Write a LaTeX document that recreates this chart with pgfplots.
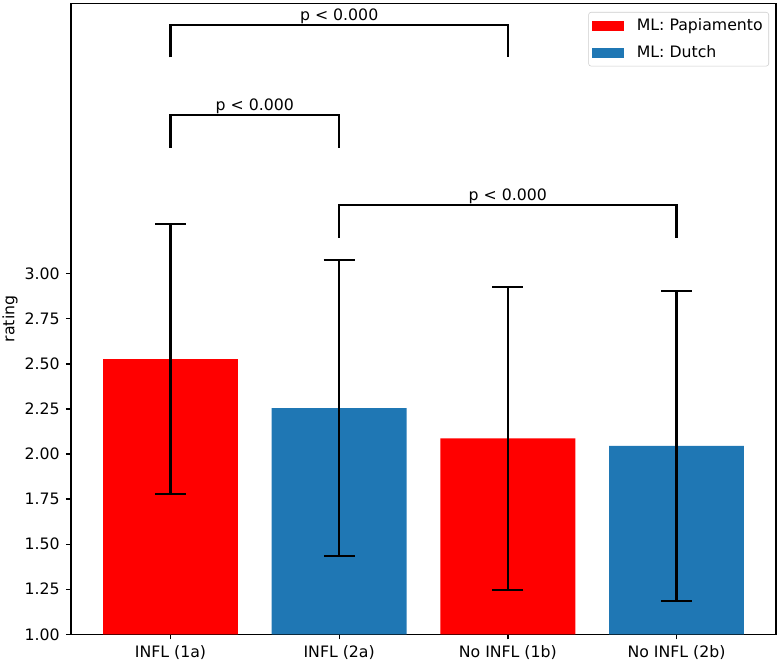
\documentclass[border=0pt]{standalone}
\usepackage{fontspec}
\setmainfont{DejaVu Sans}
\usepackage{pgfplots}
\pgfplotsset{compat=1.18}
\definecolor{mplred}{HTML}{FF0000}
\definecolor{mplblue}{HTML}{1F77B4}
\newcommand{\fs}{\fontsize{11.8bp}{14bp}\selectfont}
\begin{document}
\begin{tikzpicture}
\begin{axis}[
  name=ax,
  scale only axis,
  width=528.75bp, height=473.25bp,
  xmin=-0.59, xmax=3.59,
  ymin=1, ymax=4.5,
  axis line style={line width=1bp},
  tick style={line width=1bp, black},
  tick align=outside,
  major tick length=3.75bp,
  xtick={0,1,2,3},
  xticklabels={INFL (1a), INFL (2a), No INFL (1b), No INFL (2b)},
  ytick={1,1.25,1.5,1.75,2,2.25,2.5,2.75,3},
  xtick pos=bottom, ytick pos=left,
  /pgf/number format/assume math mode=true,
  y tick label style={/pgf/number format/fixed, /pgf/number format/fixed zerofill, /pgf/number format/precision=2},
  ticklabel style={font=\fs},
  xticklabel style={inner sep=0pt, anchor=north, yshift=-4.5bp},
  yticklabel style={inner sep=0pt, anchor=east, xshift=-4.5bp},
  ylabel={rating},
  every axis y label/.style={at={(axis description cs:-0.0865,0.5)}, rotate=90, anchor=center, font=\fs},
  legend style={at={(1,1)}, anchor=north east, xshift=-5.25bp, yshift=-6.5bp,
    draw=black!20, rounded corners=2bp, fill=white, font=\fs,
    inner xsep=2.5bp, inner ysep=3bp, row sep=5.5bp,
    nodes={inner sep=2bp},
    /tikz/every odd column/.append style={column sep=7.75bp}},
  legend cell align=left,
  legend image code/.code={\draw[#1, draw=none, sharp corners] (0bp,-3.75bp) rectangle (24bp,3.75bp);},
  clip=false,
]
\addplot[ybar, bar width=0.8, bar shift=0pt, fill=mplred, draw=none] coordinates {(0,2.527) (2,2.087)};
\addlegendentry{ML: Papiamento}
\addplot[ybar, bar width=0.8, bar shift=0pt, fill=mplblue, draw=none] coordinates {(1,2.255) (3,2.046)};
\addlegendentry{ML: Dutch}
% error bars
\addplot[draw=none, mark=none, forget plot,
  error bars/.cd, y dir=both, y explicit,
  error bar style={line width=1.6bp, black},
  error mark options={rotate=90, black, mark size=11.6bp, line width=1.6bp}]
  coordinates {(0,2.527) +- (0,0.75) (1,2.255) +- (0,0.82) (2,2.087) +- (0,0.84) (3,2.046) +- (0,0.86)};
% significance brackets
\addplot[black, line width=1.6bp, forget plot, mark=none] coordinates {(0,4.2) (0,4.38) (2,4.38) (2,4.2)};
\addplot[black, line width=1.6bp, forget plot, mark=none] coordinates {(0,3.7) (0,3.88) (1,3.88) (1,3.7)};
\addplot[black, line width=1.6bp, forget plot, mark=none] coordinates {(1,3.2) (1,3.38) (3,3.38) (3,3.2)};
\node[anchor=south, inner sep=0pt, yshift=1bp, font=\fs] at (axis cs:1,4.38) {p < 0.000};
\node[anchor=south, inner sep=0pt, yshift=1bp, font=\fs] at (axis cs:0.5,3.88) {p < 0.000};
\node[anchor=south, inner sep=0pt, yshift=1bp, font=\fs] at (axis cs:2,3.38) {p < 0.000};
\end{axis}
\pgfresetboundingbox
\path ([shift={(-53.25bp,-21.5bp)}]ax.south west) rectangle ([shift={(3bp,2.5bp)}]ax.north east);
\end{tikzpicture}
\end{document}
